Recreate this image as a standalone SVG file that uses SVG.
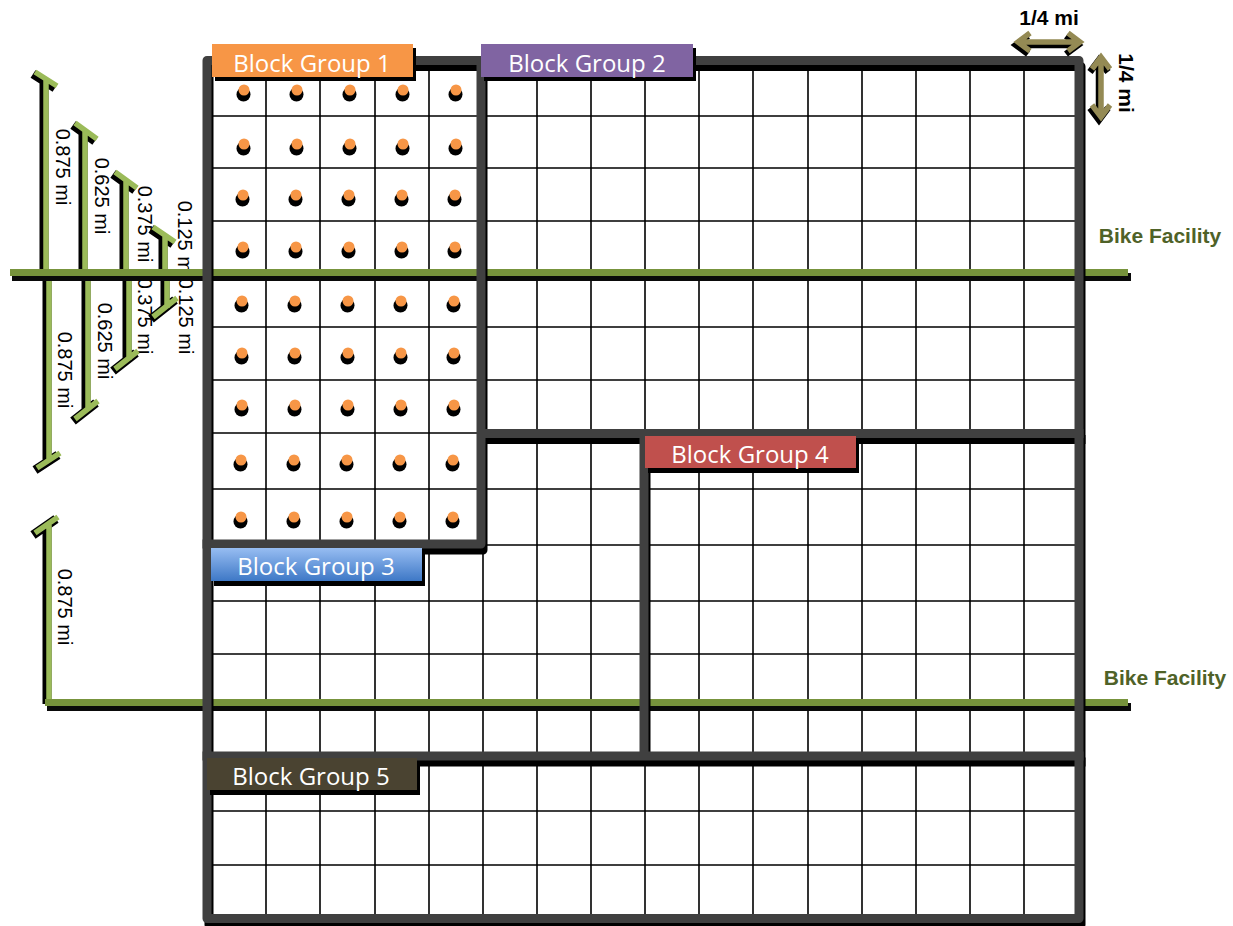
<svg xmlns="http://www.w3.org/2000/svg" xmlns:xlink="http://www.w3.org/1999/xlink" width="1233" height="926" viewBox="0 0 1233 926">
<style>
.grid{stroke:#000;stroke-width:1.6;fill:none}
.thick{stroke:#404040;stroke-width:9;fill:none;stroke-linecap:square;stroke-linejoin:round}
.thicksh{stroke:#000;stroke-width:9;fill:none;stroke-linecap:square;stroke-linejoin:round}
.bg{font-family:"Open Sans","Liberation Sans",sans-serif;font-size:24px;fill:#fff;text-anchor:middle}
.dim{font-family:"Liberation Sans",Arial,sans-serif;font-size:20px;fill:#000;text-anchor:middle}
.dimg{stroke:#9BBB59;stroke-width:5.5;fill:none;stroke-linecap:butt}
.dimsh{stroke:#000;stroke-width:9;fill:none;stroke-linecap:butt}
.bike{stroke:#77933C;stroke-width:7;fill:none}
.bikesh{stroke:#0a0a0a;stroke-width:8;fill:none}
.bikelbl{font-family:"Liberation Sans",Arial,sans-serif;font-size:21px;font-weight:bold;fill:#4F6228;text-anchor:middle}
.qm{font-family:"Liberation Sans",Arial,sans-serif;font-size:21px;font-weight:bold;fill:#000;text-anchor:middle}
.arr{stroke:#948A54;stroke-width:5.5;fill:none;stroke-linejoin:miter}
.arrsh{stroke:#000;stroke-width:6.5;fill:none}
.lblsh{fill:#000}
</style>
<defs>
<linearGradient id="blue" x1="0" y1="0" x2="0" y2="1">
<stop offset="0" stop-color="#97BDF2"/>
<stop offset="1" stop-color="#3E78C6"/>
</linearGradient>
<g id="dot"><circle cx="-0.5" cy="4.5" r="7" fill="#000"/><circle cx="0" cy="0" r="5.5" fill="#F79646"/></g>
</defs>
<rect width="1233" height="926" fill="#fff"/>

<g id="grid">
<path class="grid" d="M266 60V918M320 60V918M375 60V918M429 60V918M483 60V918M537 60V918M591 60V918M645 60V918M699 60V918M753 60V918M808 60V918M862 60V918M916 60V918M970 60V918M1024 60V918"/>
<path class="grid" d="M207 116H1079M207 168H1079M207 221H1079M207 274H1079M207 327H1079M207 380H1079M207 433H1079M207 489H1079M207 545H1079M207 601H1079M207 654H1079M207 706H1079M207 758H1079M207 811H1079M207 865H1079"/>
</g>

<g id="households">
<use xlink:href="#dot" x="244" y="90"/><use xlink:href="#dot" x="297" y="90"/><use xlink:href="#dot" x="350" y="90"/><use xlink:href="#dot" x="403" y="90"/><use xlink:href="#dot" x="456" y="90"/>
<use xlink:href="#dot" x="244" y="144"/><use xlink:href="#dot" x="297" y="144"/><use xlink:href="#dot" x="350" y="144"/><use xlink:href="#dot" x="403" y="144"/><use xlink:href="#dot" x="456" y="144"/>
<use xlink:href="#dot" x="243" y="195"/><use xlink:href="#dot" x="296" y="195"/><use xlink:href="#dot" x="349" y="195"/><use xlink:href="#dot" x="402" y="195"/><use xlink:href="#dot" x="455" y="195"/>
<use xlink:href="#dot" x="243" y="247"/><use xlink:href="#dot" x="296" y="247"/><use xlink:href="#dot" x="349" y="247"/><use xlink:href="#dot" x="402" y="247"/><use xlink:href="#dot" x="455" y="247"/>
<use xlink:href="#dot" x="242" y="301"/><use xlink:href="#dot" x="295" y="301"/><use xlink:href="#dot" x="348" y="301"/><use xlink:href="#dot" x="401" y="301"/><use xlink:href="#dot" x="454" y="301"/>
<use xlink:href="#dot" x="242" y="353"/><use xlink:href="#dot" x="295" y="353"/><use xlink:href="#dot" x="348" y="353"/><use xlink:href="#dot" x="401" y="353"/><use xlink:href="#dot" x="454" y="353"/>
<use xlink:href="#dot" x="242" y="405"/><use xlink:href="#dot" x="295" y="405"/><use xlink:href="#dot" x="348" y="405"/><use xlink:href="#dot" x="401" y="405"/><use xlink:href="#dot" x="454" y="405"/>
<use xlink:href="#dot" x="241" y="460"/><use xlink:href="#dot" x="294" y="460"/><use xlink:href="#dot" x="347" y="460"/><use xlink:href="#dot" x="400" y="460"/><use xlink:href="#dot" x="453" y="460"/>
<use xlink:href="#dot" x="241" y="517"/><use xlink:href="#dot" x="294" y="517"/><use xlink:href="#dot" x="347" y="517"/><use xlink:href="#dot" x="400" y="517"/><use xlink:href="#dot" x="453" y="517"/>
</g>

<g id="distance-labels">
<text class="dim" transform="translate(56,167) rotate(90)">0.875 mi</text>
<text class="dim" transform="translate(95,196) rotate(90)">0.625 mi</text>
<text class="dim" transform="translate(138,224) rotate(90)">0.375 mi</text>
<text class="dim" transform="translate(178,239) rotate(90)">0.125 mi</text>
<text class="dim" transform="translate(58,370) rotate(90)">0.875 mi</text>
<text class="dim" transform="translate(98,341) rotate(90)">0.625 mi</text>
<text class="dim" transform="translate(138,316) rotate(90)">0.375 mi</text>
<text class="dim" transform="translate(179,316) rotate(90)">0.125 mi</text>
<text class="dim" transform="translate(58,607) rotate(90)">0.875 mi</text>
</g>

<g id="connectors">
<g id="distance-bars">
<g transform="translate(-2,2)">
<path class="dimsh" d="M46 79V272M35 72L57 86M85 131V272M75 123L97 139M126 180V272M115 172L137 188M165 234V272M153 227L175 242M49 277V461M37 468L60 453M88 277V410M75 419L98 401M129 277V360M115 369L138 351M167 277V308M153 317L177 298M49 525V702M35 533L58 517"/>
</g>
<path class="dimg" d="M46 79V272M35 72L57 86M85 131V272M75 123L97 139M126 180V272M115 172L137 188M165 234V272M153 227L175 242M49 277V461M37 468L60 453M88 277V410M75 419L98 401M129 277V360M115 369L138 351M167 277V308M153 317L177 298M49 525V702M35 533L58 517"/>
</g>
<g id="bike-facility-1">
<path class="bikesh" d="M12 277H1131"/>
<path class="bike" d="M10 272.5H1128"/>
</g>
<g id="bike-facility-2">
<path class="bikesh" d="M47 707H1131"/>
<path class="bike" d="M45 702.5H1128"/>
</g>
</g>

<g id="boundaries">
<g transform="translate(2,6)">
<path class="thicksh" d="M207 60.5H1079V918.5H207Z"/>
<path class="thicksh" d="M481 60.5V544H207M481 433.5H1079M644 433.5V756M207 756H1079"/>
</g>
<path class="thick" d="M207 60.5H1079V918.5H207Z"/>
<path class="thick" d="M481 60.5V544H207M481 433.5H1079M644 433.5V756M207 756H1079"/>
</g>

<g id="block-group-1">
<rect class="lblsh" x="215" y="48" width="201" height="33"/>
<rect x="212" y="44" width="201" height="33" fill="#F79646"/>
<text class="bg" x="312" y="72">Block Group 1</text>
</g>
<g id="block-group-2">
<rect class="lblsh" x="484" y="48" width="212" height="33"/>
<rect x="481" y="44" width="212" height="33" fill="#8064A2"/>
<text class="bg" x="587" y="72">Block Group 2</text>
</g>
<g id="block-group-3">
<rect class="lblsh" x="214" y="553" width="211" height="33"/>
<rect x="211" y="548" width="211" height="33" fill="url(#blue)"/>
<text class="bg" x="316" y="575">Block Group 3</text>
</g>
<g id="block-group-4">
<rect class="lblsh" x="648" y="441" width="211" height="32"/>
<rect x="645" y="436" width="211" height="32" fill="#C0504D"/>
<text class="bg" x="750" y="463">Block Group 4</text>
</g>
<g id="block-group-5">
<rect class="lblsh" x="210" y="763" width="210" height="32"/>
<rect x="207" y="758" width="210" height="32" fill="#4A4331"/>
<text class="bg" x="311" y="785">Block Group 5</text>
</g>

<g id="bike-labels">
<text class="bikelbl" x="1160" y="243">Bike Facility</text>
<text class="bikelbl" x="1165" y="685">Bike Facility</text>
</g>

<g id="scale">
<g transform="translate(-2,3)">
<path class="arrsh" d="M1021 42H1077M1030 33L1018 42L1030 51M1068 33L1080 42L1068 51"/>
<path class="arrsh" d="M1101 60V114M1092 69L1101 57L1110 69M1092 105L1101 117L1110 105"/>
</g>
<path class="arr" d="M1021 42H1077M1030 33L1018 42L1030 51M1068 33L1080 42L1068 51"/>
<path class="arr" d="M1101 60V114M1092 69L1101 57L1110 69M1092 105L1101 117L1110 105"/>
<text class="qm" x="1049" y="25">1/4 mi</text>
<text class="qm" transform="translate(1119,83) rotate(90)">1/4 mi</text>
</g>
</svg>
